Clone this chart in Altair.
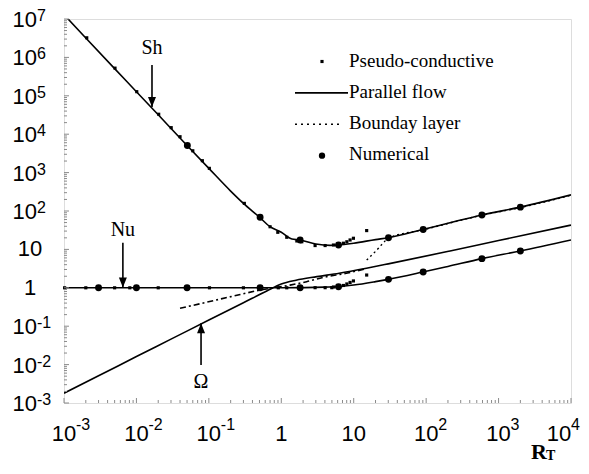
import altair as alt
import pandas as pd

# ---------------- data ----------------
# Parallel flow (solid) curves
sh_x = [0.001, 0.002, 0.005, 0.01, 0.02, 0.05, 0.1, 0.2, 0.3, 0.5, 0.7, 1.0, 1.4, 1.8, 3.0, 4.7, 6.2, 10, 20, 30, 90, 200, 590, 2000, 10000]
sh_y = [1.3e7, 3.2e6, 5.1e5, 1.28e5, 3.2e4, 5.1e3, 1.29e3, 330, 158, 69, 39, 28, 18.6, 17.6, 13.8, 12.7, 13.0, 14.5, 18, 20.2, 33, 48, 79, 126, 263]

nu_x = [0.001, 0.01, 0.1, 1.0, 2.0, 4.0, 6.2, 10, 20, 30, 90, 200, 590, 2000, 10000]
nu_y = [1, 1, 1, 1, 1.01, 1.04, 1.07, 1.18, 1.45, 1.66, 2.57, 3.6, 5.75, 9.1, 17.6]

om_x = [0.001, 0.003, 0.01, 0.03, 0.1, 0.3, 0.63, 1.0, 1.6, 3.1, 6.3, 15, 30, 214, 1000, 10000]
om_y = [1.8e-3, 5.1e-3, 0.0162, 0.046, 0.145, 0.41, 0.83, 1.26, 1.58, 1.95, 2.4, 3.24, 4.2, 9.1, 17, 43]

# Pseudo-conductive (small squares)
psh_x = [0.00206, 0.00506, 0.0101, 0.0203, 0.0302, 0.04, 0.06, 0.0813, 0.1016, 0.309, 0.7, 0.895, 1.19, 1.64, 1.92, 2.93, 4.03, 5.25, 6.15, 7.21, 8.04, 8.91, 9.91, 15.1]
psh_y = [3.24e6, 5.25e5, 1.28e5, 3.31e4, 1.48e4, 8.6e3, 3.7e3, 2.04e3, 1.29e3, 158, 38.9, 27.9, 20.7, 16.6, 15.8, 12.6, 12.6, 13.0, 13.5, 14.5, 15.8, 17.6, 19.5, 30.9]
pnu_x = [0.00102, 0.002, 0.005, 0.0081, 0.02, 0.102, 0.3, 0.91, 1.19, 2.93, 4.03, 4.98, 5.25, 6.15, 7.21, 8.04, 8.91, 9.91, 15.1]
pnu_y = [1, 1, 1, 1, 1, 1, 1, 1, 1, 1.007, 1.007, 1.007, 1.05, 1.09, 1.15, 1.26, 1.38, 1.51, 2.15]

# Numerical (circles)
nsh_x = [0.0505, 0.51, 1.82, 6.17, 30.2, 91, 589, 2000]
nsh_y = [5.1e3, 69, 17.6, 13.0, 20.2, 33, 79, 126]
nnu_x = [0.003, 0.01, 0.05, 0.51, 1.82, 6.17, 30.2, 91, 589, 2000]
nnu_y = [1, 1, 1, 1, 1.007, 1.07, 1.66, 2.57, 5.75, 9.08]

# Boundary layer (dotted / dashed)
bsh_x = [15.1, 20, 25, 30.2, 91, 589, 2000, 10000]
bsh_y = [5.3, 8.9, 14.1, 19.5, 32.4, 77.6, 123, 257]
blo_x = [0.04, 0.115, 0.22, 0.51, 1.32, 2.24, 3.8, 7.9, 15.1]
blo_y = [0.292, 0.461, 0.612, 0.871, 1.175, 1.445, 1.86, 2.4, 3.16]

# Annotations: label, x, text y, arrow tail y, arrow tip y
ann_label = ["Sh", "Nu", "Ω"]
ann_x = [0.0164, 0.0065, 0.078]
ann_ty = [1.76e6, 31.6, 3.5e-3]
ann_tail = [6.3e5, 14.8, 9.8e-3]
ann_tip = [5.1e4, 1.02, 0.12]
ann_dir = ["down", "down", "up"]

legend_labels = ["Pseudo-conductive", "Parallel flow", "Bounday layer", "Numerical"]

x_tick_vals = [0.001, 0.01, 0.1, 1, 10, 100, 1000, 10000]
x_tick_base = ["10", "10", "10", "1", "10", "10", "10", "10"]
x_tick_exp = ["-3", "-2", "-1", "", "", "2", "3", "4"]
x_tick_shift = [0, 0, 0, 0, 0, 0, 0, -12]   # last label pulled inside the page edge
y_tick_vals = [1e-3, 1e-2, 1e-1, 1, 10, 100, 1e3, 1e4, 1e5, 1e6, 1e7]
y_tick_base = ["10", "10", "10", "1", "10", "10", "10", "10", "10", "10", "10"]
y_tick_exp = ["-3", "-2", "-1", "", "", "2", "3", "4", "5", "6", "7"]

# ---------------- chart ----------------
W, H = 507, 384
SANS = "Liberation Sans"
SERIF = "Liberation Serif"
GRAY = "#8a8a8a"

xs = alt.Scale(type="log", domain=[1e-3, 1e4])
ys = alt.Scale(type="log", domain=[1e-3, 1e7])


def XE(f="x"):
    return alt.X(f"{f}:Q", scale=xs, axis=None)


def YE(f="y"):
    return alt.Y(f"{f}:Q", scale=ys, axis=None)


def df(x, y):
    return pd.DataFrame({"x": x, "y": y})


def solid(x, y):
    return alt.Chart(df(x, y)).mark_line(color="black", strokeWidth=1.6, clip=True, interpolate="monotone").encode(
        x=XE(), y=YE())


def squares(x, y):
    return alt.Chart(df(x, y)).mark_square(color="black", size=10, opacity=1).encode(x=XE(), y=YE())


def circles(x, y):
    return alt.Chart(df(x, y)).mark_circle(color="black", size=48, opacity=1).encode(x=XE(), y=YE())


layers = []
layers.append(solid(sh_x, sh_y))
layers.append(solid(nu_x, nu_y))
layers.append(solid(om_x, om_y))
layers.append(alt.Chart(df(bsh_x, bsh_y)).mark_line(color="black", strokeWidth=1.4, strokeDash=[2, 3], clip=True,
                                                     interpolate="monotone").encode(x=XE(), y=YE()))
layers.append(alt.Chart(df(blo_x, blo_y)).mark_line(color="black", strokeWidth=1.6, strokeDash=[6, 3, 2, 3], clip=True,
                                                     interpolate="monotone").encode(x=XE(), y=YE()))
layers.append(squares(psh_x, psh_y))
layers.append(squares(pnu_x, pnu_y))
layers.append(circles(nsh_x, nsh_y))
layers.append(circles(nnu_x, nnu_y))

# annotations
ann = pd.DataFrame({"label": ann_label, "x": ann_x, "ty": ann_ty, "tail": ann_tail, "tip": ann_tip, "dir": ann_dir})
layers.append(alt.Chart(ann).mark_text(font=SERIF, fontSize=20, baseline="middle", align="center").encode(
    x=XE(), y=YE("ty"), text="label:N"))
layers.append(alt.Chart(ann).mark_rule(color="black", strokeWidth=1.6).encode(x=XE(), y=YE("tail"), y2="tip:Q"))
layers.append(alt.Chart(ann).transform_filter("datum.dir == 'down'").mark_point(
    shape="M-0.8,-2L0.8,-2L0,0Z", size=100, filled=True, color="black", opacity=1).encode(x=XE(), y=YE("tip")))
layers.append(alt.Chart(ann).transform_filter("datum.dir == 'up'").mark_point(
    shape="M-0.8,2L0.8,2L0,0Z", size=100, filled=True, color="black", opacity=1).encode(x=XE(), y=YE("tip")))

# ticks (inside the frame)
decades_x = x_tick_vals
decades_y = y_tick_vals
minor_x = [d * m for d in decades_x[:-1] for m in range(2, 10)]
minor_y = [d * m for d in decades_y[:-1] for m in range(2, 10)]
tx = pd.DataFrame({"x": decades_x + minor_x, "len": [5] * len(decades_x) + [3] * len(minor_x)})
ty = pd.DataFrame({"y": decades_y + minor_y, "len": [5] * len(decades_y) + [3] * len(minor_y)})
layers.append(alt.Chart(tx).transform_calculate(y0=f"{H}", y1=f"{H} - datum.len").mark_rule(
    color=GRAY, strokeWidth=1).encode(x=XE(), y=alt.Y("y0:Q", scale=None), y2="y1:Q"))
layers.append(alt.Chart(ty).transform_calculate(x0="0", x1="datum.len").mark_rule(
    color=GRAY, strokeWidth=1).encode(y=YE(), x=alt.X("x0:Q", scale=None), x2="x1:Q"))

# tick labels (10 with superscript exponent); x position from the scale plus a small shift
xl = pd.DataFrame({"x": x_tick_vals, "base": x_tick_base, "exp": x_tick_exp, "shift": x_tick_shift})
xl_chart = alt.Chart(xl).transform_calculate(
    bx=f"log(datum.x)/LN10 * {W}/7 + {W}*3/7 + datum.shift")
layers.append(xl_chart.mark_text(font=SANS, fontSize=22, baseline="middle", align="center").encode(
    x=alt.X("bx:Q", scale=None), y=alt.value(H + 31), text="base:N"))
layers.append(xl_chart.transform_filter("datum.exp != ''").mark_text(
    font=SANS, fontSize=16, baseline="middle", align="left", dx=12).encode(
    x=alt.X("bx:Q", scale=None), y=alt.value(H + 22), text="exp:N"))

yl = pd.DataFrame({"y": y_tick_vals, "base": y_tick_base, "exp": y_tick_exp})
layers.append(alt.Chart(yl).transform_filter("datum.exp != ''").mark_text(
    font=SANS, fontSize=22, baseline="middle", align="right", dy=1).encode(
    y=YE(), x=alt.value(-27), text="base:N"))
layers.append(alt.Chart(yl).transform_filter("datum.exp != ''").mark_text(
    font=SANS, fontSize=16, baseline="middle", align="left", dy=-3).encode(
    y=YE(), x=alt.value(-27), text="exp:N"))
layers.append(alt.Chart(yl).transform_filter("datum.exp == ''").mark_text(
    font=SANS, fontSize=22, baseline="middle", align="center").encode(
    y=YE(), x=alt.value(-34), text="base:N"))

# axis title R_T
layers.append(alt.Chart(pd.DataFrame({"t": ["R"]})).mark_text(
    font=SERIF, fontSize=22, fontWeight="bold", align="left", baseline="alphabetic").encode(
    x=alt.value(467), y=alt.value(440), text="t:N"))
layers.append(alt.Chart(pd.DataFrame({"t": ["T"]})).mark_text(
    font=SERIF, fontSize=14, fontWeight="bold", align="left", baseline="alphabetic").encode(
    x=alt.value(482), y=alt.value(441), text="t:N"))

# legend (manual)
leg = pd.DataFrame({"label": legend_labels, "row": list(range(len(legend_labels)))})
leg["ty"] = 48 + leg["row"] * 31
leg["sy"] = 42.5 + leg["row"] * 31.4
layers.append(alt.Chart(leg).mark_text(font=SERIF, fontSize=19, align="left", baseline="alphabetic").encode(
    x=alt.value(285), y=alt.Y("ty:Q", scale=None), text="label:N"))
layers.append(alt.Chart(leg).transform_filter("datum.row == 0").mark_square(color="black", size=10, opacity=1).encode(
    x=alt.value(258), y=alt.Y("sy:Q", scale=None)))
layers.append(alt.Chart(leg).transform_filter("datum.row == 1").mark_rule(color="black", strokeWidth=1.6).encode(
    x=alt.value(231), x2=alt.value(284), y=alt.Y("sy:Q", scale=None)))
layers.append(alt.Chart(leg).transform_filter("datum.row == 2").mark_rule(
    color="black", strokeWidth=1.4, strokeDash=[2, 4]).encode(
    x=alt.value(231), x2=alt.value(278), y=alt.Y("sy:Q", scale=None)))
layers.append(alt.Chart(leg).transform_filter("datum.row == 3").mark_circle(color="black", size=40, opacity=1).encode(
    x=alt.value(258), y=alt.Y("sy:Q", scale=None)))

chart = alt.layer(*layers).properties(
    width=W, height=H,
    autosize=alt.AutoSizeParams(type="none"),
    padding={"left": 56, "top": 11, "right": 10, "bottom": 62},
).configure_view(stroke=GRAY, strokeWidth=1.2).configure(background="white")

chart.save("out.html", embed_options={"renderer": "svg", "actions": False})
